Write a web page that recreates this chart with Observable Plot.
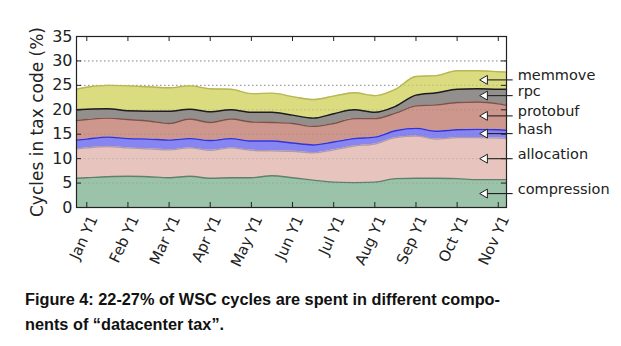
<!DOCTYPE html>
<html>
<head>
<meta charset="utf-8">
<script src="https://cdn.jsdelivr.net/npm/d3@7"></script>
<script src="https://cdn.jsdelivr.net/npm/@observablehq/plot@0.6"></script>
<style>
  html, body { margin: 0; padding: 0; background: #fff; }
  #wrap { position: relative; width: 621px; height: 346px; overflow: hidden; }
  #caption { position: absolute; left: 25px; top: 287px; width: 590px;
    font-family: "Liberation Sans", Arial, sans-serif; font-weight: bold;
    font-size: 16.3px; line-height: 25px; color: #111; white-space: nowrap; }
</style>
</head>
<body>
<div id="wrap"><div id="chart"></div>
<div id="caption">Figure 4: 22-27% of WSC cycles are spent in different compo-<br>nents of “datacenter tax”.</div>
</div>
<script>
// x positions in months from "Jan Y1" (0) to "Nov Y1" (10)
const monthPos = [-0.25, 0, 0.5, 1, 1.5, 2, 2.5, 3, 3.5, 4, 4.5, 5, 5.5, 6, 6.5, 7, 7.5, 8, 8.5, 9, 9.5, 10, 10.2];
const compression = [6.0,6.1,6.3,6.4,6.3,6.1,6.4,6.0,6.1,6.1,6.5,6.1,5.6,5.2,5.1,5.2,5.9,6.0,6.0,5.9,5.7,5.7,5.7];
const allocation  = [6.0,6.1,6.2,5.8,5.7,5.7,5.8,5.7,6.1,5.6,5.1,5.4,5.6,6.6,7.5,7.8,8.4,8.6,8.0,8.4,8.6,8.5,8.4];
const hash        = [1.8,1.8,1.9,1.9,2.0,2.0,1.9,2.0,1.9,1.9,2.0,1.7,1.6,1.6,1.5,1.4,1.4,1.6,1.6,1.6,1.7,1.7,1.7];
const protobuf    = [4.0,4.0,3.9,3.9,3.7,3.4,4.0,3.7,4.0,3.9,3.8,4.0,3.8,3.8,4.1,3.8,3.6,4.6,5.4,5.6,5.6,5.3,5.1];
const rpc         = [2.2,2.1,1.9,1.8,2.0,2.5,2.0,2.2,1.9,2.0,2.1,1.7,1.7,2.0,1.8,1.3,1.4,2.2,2.5,2.7,2.7,3.0,3.3];
const memmove     = [4.2,4.5,4.8,5.1,5.0,4.8,4.8,4.7,4.2,3.8,3.9,3.8,3.8,3.6,3.5,3.4,3.5,3.8,3.5,3.8,3.7,3.6,3.5];

const seriesNames = ["compression", "allocation", "hash", "protobuf", "rpc", "memmove"];
const seriesValues = [compression, allocation, hash, protobuf, rpc, memmove];
const fills  = ["#93bea2", "#e5c1b9", "#7d7cf0", "#c98f84", "#8a8783", "#d8d876"];
const edges  = ["#617f6b", "#b39aa6", "#3434d6", "#7d524b", "#1c1c1c", "#b7b755"];

const monthTicks = [0,1,2,3,4,5,6,7,8,9,10];
const monthLabels = ["Jan Y1","Feb Y1","Mar Y1","Apr Y1","May Y1","Jun Y1","Jul Y1","Aug Y1","Sep Y1","Oct Y1","Nov Y1"];
const yTicks = [0,5,10,15,20,25,30,35];
const yLabel = "Cycles in tax code (%)";
const arrowAt = 9.6;     // month position the annotation arrows point to
const labelAt = 10.35;   // month position where annotation lines end

// long table with cumulative top of each layer
const rows = [];
const cum = monthPos.map(() => 0);
seriesNames.forEach((s, k) => monthPos.forEach((m, i) => {
  cum[i] += seriesValues[k][i];
  rows.push({series: s, m, v: seriesValues[k][i], top: cum[i]});
}));

// annotation targets: middle of each layer at arrowAt
const i0 = monthPos.findIndex((m, i) => m <= arrowAt && monthPos[i + 1] > arrowAt);
const t = (arrowAt - monthPos[i0]) / (monthPos[i0 + 1] - monthPos[i0]);
let base = 0;
const annots = seriesNames.map((s, k) => {
  const v = seriesValues[k][i0] * (1 - t) + seriesValues[k][i0 + 1] * t;
  const mid = base + v / 2; base += v;
  return {series: s, x: arrowAt, y: mid};
});

const W = 621, H = 280, mL = 76, mR = 115, mT = 36, mB = 73;
const frameW = W - mL - mR, frameH = H - mT - mB;
const yMid = 17.5;

const chart = Plot.plot({
  width: W, height: H,
  marginLeft: mL, marginRight: mR, marginTop: mT, marginBottom: mB,
  style: {fontFamily: "DejaVu Sans, sans-serif", color: "#222", background: "#fff"},
  x: {domain: [monthPos[0], monthPos[monthPos.length - 1]], axis: null},
  y: {domain: [0, 35]},
  color: {domain: seriesNames, range: fills},
  marks: [
    Plot.ruleY(yTicks.slice(1, -1), {stroke: "#999", strokeDasharray: "1.5,2.5", strokeWidth: 1}),
    Plot.areaY(rows, {x: "m", y: "v", fill: "series", order: seriesNames, curve: "monotone-x", fillOpacity: 0.93}),
    Plot.ruleY(yTicks.slice(1, -1), {stroke: "#888", strokeDasharray: "1.5,2.5", strokeWidth: 1, strokeOpacity: 0.3}),
    ...seriesNames.map((s, k) => Plot.lineY(rows, {
      x: "m", y: "top", filter: d => d.series === s, curve: "monotone-x",
      stroke: edges[k], strokeWidth: 1.4
    })),
    // ticks inside the frame
    Plot.tickY(yTicks, {y: d => d, insetRight: frameW - 5, stroke: "#222"}),
    Plot.tickY(yTicks, {y: d => d, insetLeft: frameW - 5, stroke: "#222"}),
    Plot.tickX(monthTicks, {x: d => d, insetTop: frameH - 5, stroke: "#222"}),
    Plot.tickX(monthTicks, {x: d => d, insetBottom: frameH - 5, stroke: "#222"}),
    Plot.frame({stroke: "#222", strokeWidth: 1.2}),
    Plot.axisY(yTicks, {tickSize: 0, tickPadding: 4, fontSize: 16, label: null, fill: "#222"}),
    Plot.text([yLabel], {x: () => monthPos[0], y: () => yMid, text: d => d, dx: -38.5, rotate: -90,
      textAnchor: "middle", lineAnchor: "middle", fontSize: 17, fill: "#222"}),
    Plot.text(monthTicks, {x: d => d, text: (d, i) => monthLabels[i], frameAnchor: "bottom",
      rotate: -65, textAnchor: "end", lineAnchor: "middle", dx: 7, dy: 9, fontSize: 15, fill: "#222"}),
    // annotations
    Plot.link(annots, {x1: "x", y1: "y", x2: labelAt, y2: "y", stroke: "#222", strokeWidth: 1.1}),
    Plot.dot(annots, {x: "x", y: "y", symbol: "triangle", rotate: -90, r: 3.3, fill: "white", stroke: "#222", strokeWidth: 1, dx: 3}),
    Plot.text(annots, {x: labelAt, y: "y", text: "series", textAnchor: "start", dx: 5, dy: -4.5, fontSize: 14.5, fill: "#222"})
  ]
});
document.getElementById("chart").appendChild(chart);
</script>
</body>
</html>
